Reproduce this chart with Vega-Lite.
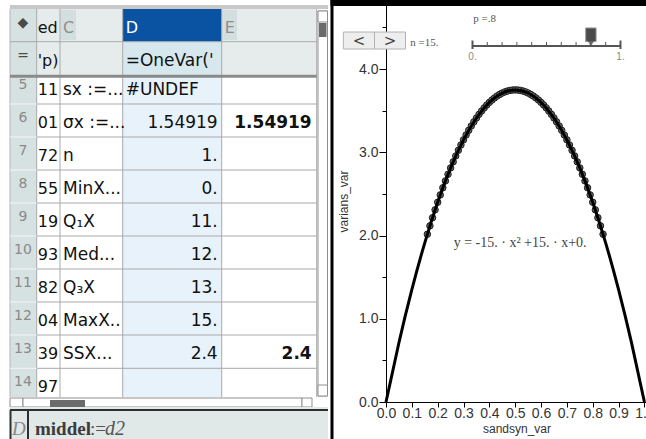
{
"$schema":"https://vega.github.io/schema/vega-lite/v6.json",
"padding":0,
"background":"#ffffff",
"spacing":0,
"config":{"view":{"stroke":null},"font":"Liberation Sans","axis":{"labelFont":"Liberation Sans","titleFont":"Liberation Sans","labelColor":"#333333","titleColor":"#333333","domainColor":"#000000","tickColor":"#000000","labelFontSize":13,"titleFontSize":12,"titleFontWeight":"normal","grid":false}},
"datasets":{
"cols":[{"c":"N","x0":1.0,"x1":3.67,"xc":2.3},{"c":"B","x0":3.67,"x1":6.0,"xc":4.8},{"c":"C","x0":6.0,"x1":12.27,"xc":9.1},{"c":"D","x0":12.27,"x1":22.17,"xc":17.2},{"c":"E","x0":22.17,"x1":31.67,"xc":26.9}],
"rows":[{"r":0,"top":0,"bot":0.991},{"r":1,"top":0.991,"bot":2.0},{"r":2,"top":2.0,"bot":2.879},{"r":3,"top":2.879,"bot":3.879},{"r":4,"top":3.879,"bot":4.879},{"r":5,"top":4.879,"bot":5.879},{"r":6,"top":5.879,"bot":6.879},{"r":7,"top":6.879,"bot":7.879},{"r":8,"top":7.879,"bot":8.879},{"r":9,"top":8.879,"bot":9.879},{"r":10,"top":9.879,"bot":10.888},{"r":11,"top":10.888,"bot":11.888}],
"cells":[
{"r":0,"c":"N","t":"◆"},{"r":1,"c":"N","t":"="},{"r":2,"c":"N","t":"5"},{"r":3,"c":"N","t":"6"},{"r":4,"c":"N","t":"7"},{"r":5,"c":"N","t":"8"},{"r":6,"c":"N","t":"9"},{"r":7,"c":"N","t":"10"},{"r":8,"c":"N","t":"11"},{"r":9,"c":"N","t":"12"},{"r":10,"c":"N","t":"13"},{"r":11,"c":"N","t":"14"},
{"r":0,"c":"B","t":"ed"},{"r":1,"c":"B","t":"'p)"},{"r":2,"c":"B","t":"11"},{"r":3,"c":"B","t":"01"},{"r":4,"c":"B","t":"72"},{"r":5,"c":"B","t":"55"},{"r":6,"c":"B","t":"19"},{"r":7,"c":"B","t":"93"},{"r":8,"c":"B","t":"82"},{"r":9,"c":"B","t":"04"},{"r":10,"c":"B","t":"39"},{"r":11,"c":"B","t":"97"},
{"r":0,"c":"C","t":"C"},{"r":2,"c":"C","t":"sx :=..."},{"r":3,"c":"C","t":"σx :=..."},{"r":4,"c":"C","t":"n"},{"r":5,"c":"C","t":"MinX..."},{"r":6,"c":"C","t":"Q₁X"},{"r":7,"c":"C","t":"Med..."},{"r":8,"c":"C","t":"Q₃X"},{"r":9,"c":"C","t":"MaxX.."},{"r":10,"c":"C","t":"SSX..."},
{"r":0,"c":"D","t":"D"},{"r":1,"c":"D","t":"=OneVar('"},{"r":2,"c":"D","t":"#UNDEF"},{"r":3,"c":"D","t":"1.54919"},{"r":4,"c":"D","t":"1."},{"r":5,"c":"D","t":"0."},{"r":6,"c":"D","t":"11."},{"r":7,"c":"D","t":"12."},{"r":8,"c":"D","t":"13."},{"r":9,"c":"D","t":"15."},{"r":10,"c":"D","t":"2.4"},
{"r":0,"c":"E","t":"E"},{"r":3,"c":"E","t":"1.54919"},{"r":10,"c":"E","t":"2.4"}],
"fills":[
{"k":"topbar","x0":1.0,"x1":32.8,"y0":-0.121,"y1":0},
{"k":"rownum","x0":1.0,"x1":3.67,"y0":0,"y1":11.758},
{"k":"head","x0":3.67,"x1":31.67,"y0":0,"y1":2.0},
{"k":"sel","x0":12.27,"x1":22.17,"y0":0,"y1":0.991},
{"k":"selhead","x0":12.27,"x1":22.17,"y0":0.991,"y1":2.0},
{"k":"selbody","x0":12.27,"x1":22.17,"y0":2.0,"y1":11.758},
{"k":"colbox","x0":6.05,"x1":7.6,"y0":0.03,"y1":0.94},
{"k":"colbox","x0":22.22,"x1":23.7,"y0":0.03,"y1":0.94},
{"k":"fbar","x0":1.0,"x1":32.8,"y0":12.061,"y1":13.03},
{"k":"thumb","x0":31.9,"x1":32.65,"y0":0.424,"y1":0.848},
{"k":"thumb","x0":5.0,"x1":8.5,"y0":11.848,"y1":12.061}],
"boxes":[
{"x0":31.8,"x1":32.75,"y0":0.061,"y1":11.727},
{"x0":31.8,"x1":32.75,"y0":0.061,"y1":0.394},
{"x0":31.8,"x1":32.75,"y0":11.394,"y1":11.727},
{"x0":1.0,"x1":2.3,"y0":11.788,"y1":12.061},
{"x0":2.3,"x1":30.2,"y0":11.788,"y1":12.061},
{"x0":30.2,"x1":31.2,"y0":11.788,"y1":12.061}],
"lines":[
{"k":"edge","x0":1.0,"x1":1.0,"y0":0,"y1":11.758},
{"k":"grid","x0":3.67,"x1":3.67,"y0":0,"y1":11.758},
{"k":"grid","x0":6.0,"x1":6.0,"y0":0,"y1":11.758},
{"k":"grid","x0":12.27,"x1":12.27,"y0":0,"y1":11.758},
{"k":"grid","x0":22.17,"x1":22.17,"y0":0,"y1":11.758},
{"k":"grid","x0":31.67,"x1":31.67,"y0":0,"y1":11.758},
{"k":"grid","x0":1.0,"x1":31.67,"y0":0.991,"y1":0.991},
{"k":"grid","x0":3.67,"x1":31.67,"y0":2.879,"y1":2.879},
{"k":"grid","x0":3.67,"x1":31.67,"y0":3.879,"y1":3.879},
{"k":"grid","x0":3.67,"x1":31.67,"y0":4.879,"y1":4.879},
{"k":"grid","x0":3.67,"x1":31.67,"y0":5.879,"y1":5.879},
{"k":"grid","x0":3.67,"x1":31.67,"y0":6.879,"y1":6.879},
{"k":"grid","x0":3.67,"x1":31.67,"y0":7.879,"y1":7.879},
{"k":"grid","x0":3.67,"x1":31.67,"y0":8.879,"y1":8.879},
{"k":"grid","x0":3.67,"x1":31.67,"y0":9.879,"y1":9.879},
{"k":"grid","x0":3.67,"x1":31.67,"y0":10.888,"y1":10.888},
{"k":"nline","x0":1.0,"x1":3.67,"y0":2.879,"y1":2.879},
{"k":"nline","x0":1.0,"x1":3.67,"y0":3.879,"y1":3.879},
{"k":"nline","x0":1.0,"x1":3.67,"y0":4.879,"y1":4.879},
{"k":"nline","x0":1.0,"x1":3.67,"y0":5.879,"y1":5.879},
{"k":"nline","x0":1.0,"x1":3.67,"y0":6.879,"y1":6.879},
{"k":"nline","x0":1.0,"x1":3.67,"y0":7.879,"y1":7.879},
{"k":"nline","x0":1.0,"x1":3.67,"y0":8.879,"y1":8.879},
{"k":"nline","x0":1.0,"x1":3.67,"y0":9.879,"y1":9.879},
{"k":"nline","x0":1.0,"x1":3.67,"y0":10.888,"y1":10.888},
{"k":"sep","x0":1.0,"x1":31.67,"y0":2.04,"y1":2.04},
{"k":"dark","x0":1.0,"x1":32.8,"y0":12.152,"y1":12.152},
{"k":"dark","x0":1.05,"x1":1.05,"y0":12.152,"y1":13.03},
{"k":"dark","x0":2.8,"x1":2.8,"y0":12.152,"y1":13.03}],
"slider":[{"p":0,"at":0.3347},{"p":0.1,"at":0.392},{"p":0.2,"at":0.4492},{"p":0.3,"at":0.5065},{"p":0.4,"at":0.5638},{"p":0.5,"at":0.6211},{"p":0.6,"at":0.6783},{"p":0.7,"at":0.7356},{"p":0.8,"at":0.7929},{"p":0.9,"at":0.8501},{"p":1,"at":0.9074}],
"curve":[{"sandsyn_var":0,"varians_var":0},{"sandsyn_var":0.05,"varians_var":0.7125},{"sandsyn_var":0.1,"varians_var":1.35},{"sandsyn_var":0.15,"varians_var":1.9125},{"sandsyn_var":0.2,"varians_var":2.4},{"sandsyn_var":0.25,"varians_var":2.8125},{"sandsyn_var":0.3,"varians_var":3.15},{"sandsyn_var":0.35,"varians_var":3.4125},{"sandsyn_var":0.4,"varians_var":3.6},{"sandsyn_var":0.45,"varians_var":3.7125},{"sandsyn_var":0.5,"varians_var":3.75},{"sandsyn_var":0.55,"varians_var":3.7125},{"sandsyn_var":0.6,"varians_var":3.6},{"sandsyn_var":0.65,"varians_var":3.4125},{"sandsyn_var":0.7,"varians_var":3.15},{"sandsyn_var":0.75,"varians_var":2.8125},{"sandsyn_var":0.8,"varians_var":2.4},{"sandsyn_var":0.85,"varians_var":1.9125},{"sandsyn_var":0.9,"varians_var":1.35},{"sandsyn_var":0.95,"varians_var":0.7125},{"sandsyn_var":1,"varians_var":0}],
"pts":[{"sandsyn_var":0.16,"varians_var":2.016},{"sandsyn_var":0.17,"varians_var":2.1165},{"sandsyn_var":0.18,"varians_var":2.214},{"sandsyn_var":0.19,"varians_var":2.3085},{"sandsyn_var":0.2,"varians_var":2.4},{"sandsyn_var":0.21,"varians_var":2.4885},{"sandsyn_var":0.22,"varians_var":2.574},{"sandsyn_var":0.23,"varians_var":2.6565},{"sandsyn_var":0.24,"varians_var":2.736},{"sandsyn_var":0.25,"varians_var":2.8125},{"sandsyn_var":0.26,"varians_var":2.886},{"sandsyn_var":0.27,"varians_var":2.9565},{"sandsyn_var":0.28,"varians_var":3.024},{"sandsyn_var":0.29,"varians_var":3.0885},{"sandsyn_var":0.3,"varians_var":3.15},{"sandsyn_var":0.31,"varians_var":3.2085},{"sandsyn_var":0.32,"varians_var":3.264},{"sandsyn_var":0.33,"varians_var":3.3165},{"sandsyn_var":0.34,"varians_var":3.366},{"sandsyn_var":0.35,"varians_var":3.4125},{"sandsyn_var":0.36,"varians_var":3.456},{"sandsyn_var":0.37,"varians_var":3.4965},{"sandsyn_var":0.38,"varians_var":3.534},{"sandsyn_var":0.39,"varians_var":3.5685},{"sandsyn_var":0.4,"varians_var":3.6},{"sandsyn_var":0.41,"varians_var":3.6285},{"sandsyn_var":0.42,"varians_var":3.654},{"sandsyn_var":0.43,"varians_var":3.6765},{"sandsyn_var":0.44,"varians_var":3.696},{"sandsyn_var":0.45,"varians_var":3.7125},{"sandsyn_var":0.46,"varians_var":3.726},{"sandsyn_var":0.47,"varians_var":3.7365},{"sandsyn_var":0.48,"varians_var":3.744},{"sandsyn_var":0.49,"varians_var":3.7485},{"sandsyn_var":0.5,"varians_var":3.75},{"sandsyn_var":0.51,"varians_var":3.7485},{"sandsyn_var":0.52,"varians_var":3.744},{"sandsyn_var":0.53,"varians_var":3.7365},{"sandsyn_var":0.54,"varians_var":3.726},{"sandsyn_var":0.55,"varians_var":3.7125},{"sandsyn_var":0.56,"varians_var":3.696},{"sandsyn_var":0.57,"varians_var":3.6765},{"sandsyn_var":0.58,"varians_var":3.654},{"sandsyn_var":0.59,"varians_var":3.6285},{"sandsyn_var":0.6,"varians_var":3.6},{"sandsyn_var":0.61,"varians_var":3.5685},{"sandsyn_var":0.62,"varians_var":3.534},{"sandsyn_var":0.63,"varians_var":3.4965},{"sandsyn_var":0.64,"varians_var":3.456},{"sandsyn_var":0.65,"varians_var":3.4125},{"sandsyn_var":0.66,"varians_var":3.366},{"sandsyn_var":0.67,"varians_var":3.3165},{"sandsyn_var":0.68,"varians_var":3.264},{"sandsyn_var":0.69,"varians_var":3.2085},{"sandsyn_var":0.7,"varians_var":3.15},{"sandsyn_var":0.71,"varians_var":3.0885},{"sandsyn_var":0.72,"varians_var":3.024},{"sandsyn_var":0.73,"varians_var":2.9565},{"sandsyn_var":0.74,"varians_var":2.886},{"sandsyn_var":0.75,"varians_var":2.8125},{"sandsyn_var":0.76,"varians_var":2.736},{"sandsyn_var":0.77,"varians_var":2.6565},{"sandsyn_var":0.78,"varians_var":2.574},{"sandsyn_var":0.79,"varians_var":2.4885},{"sandsyn_var":0.8,"varians_var":2.4},{"sandsyn_var":0.81,"varians_var":2.3085},{"sandsyn_var":0.82,"varians_var":2.214},{"sandsyn_var":0.83,"varians_var":2.1165},{"sandsyn_var":0.84,"varians_var":2.016}]
},
"hconcat":[
{
"width":330,"height":439,
"layer":[
{"data":{"name":"boxes"},"mark":{"type":"rect","fill":"#ffffff","stroke":"#8f8f8f","strokeWidth":1},
 "encoding":{"x":{"field":"x0","type":"quantitative","scale":{"domain":[0,33],"nice":false,"zero":false},"axis":null},"x2":{"field":"x1"},
 "y":{"field":"y0","type":"quantitative","scale":{"domain":[-0.2727,13.03],"nice":false,"zero":false,"reverse":true},"axis":null},"y2":{"field":"y1"}}},
{"data":{"name":"fills"},"mark":{"type":"rect"},
 "encoding":{"x":{"field":"x0","type":"quantitative","axis":null},"x2":{"field":"x1"},"y":{"field":"y0","type":"quantitative","axis":null},"y2":{"field":"y1"},
 "color":{"field":"k","type":"nominal","legend":null,"scale":{"domain":["topbar","rownum","head","sel","selhead","selbody","colbox","fbar","thumb","grid","nline","edge","sep","dark"],"range":["#c8c8c8","#d6e1e1","#e6ecec","#0a53a2","#d6e7ee","#e7f2fa","#d3dede","#e1e8e8","#6b6b6b","#a9a9a9","#f3f6f6","#b5b5b5","#8a8a8a","#2e2e2e"]}}}},
{"data":{"name":"lines"},"transform":[{"filter":"datum.k==='grid'||datum.k==='nline'||datum.k==='edge'"}],"mark":{"type":"rule","strokeWidth":1},
 "encoding":{"x":{"field":"x0","type":"quantitative","axis":null},"x2":{"field":"x1"},"y":{"field":"y0","type":"quantitative","axis":null},"y2":{"field":"y1"},
 "color":{"field":"k","type":"nominal","legend":null,"scale":{"domain":["topbar","rownum","head","sel","selhead","selbody","colbox","fbar","thumb","grid","nline","edge","sep","dark"],"range":["#c8c8c8","#d6e1e1","#e6ecec","#0a53a2","#d6e7ee","#e7f2fa","#d3dede","#e1e8e8","#6b6b6b","#a9a9a9","#f3f6f6","#b5b5b5","#8a8a8a","#2e2e2e"]}}}},
{"data":{"name":"lines"},"transform":[{"filter":"datum.k==='dark'"}],"mark":{"type":"rule","strokeWidth":2,"color":"#2e2e2e"},
 "encoding":{"x":{"field":"x0","type":"quantitative","axis":null},"x2":{"field":"x1"},"y":{"field":"y0","type":"quantitative","axis":null},"y2":{"field":"y1"}}},
{"data":{"name":"lines"},"transform":[{"filter":"datum.k==='sep'"}],"mark":{"type":"rule","strokeWidth":3,"color":"#8a8a8a"},
 "encoding":{"x":{"field":"x0","type":"quantitative","axis":null},"x2":{"field":"x1"},"y":{"field":"y0","type":"quantitative","axis":null},"y2":{"field":"y1"}}},
{"data":{"name":"cells"},"transform":[{"lookup":"c","from":{"data":{"name":"cols"},"key":"c","fields":["x0","x1","xc"]}},{"lookup":"r","from":{"data":{"name":"rows"},"key":"r","fields":["bot"]}},{"filter":"datum.c==='N'"}],
 "mark":{"type":"text","align":"center","baseline":"alphabetic","dy":-15,"font":"DejaVu Sans","fontSize":14},
 "encoding":{"x":{"field":"xc","type":"quantitative","axis":null},"y":{"field":"bot","type":"quantitative","axis":null},"text":{"field":"t"},"color":{"condition":{"test":"datum.r<2","value":"#4a4a4a"},"value":"#8a8a8a"}}},
{"data":{"name":"cells"},"transform":[{"lookup":"c","from":{"data":{"name":"cols"},"key":"c","fields":["x0","x1","xc"]}},{"lookup":"r","from":{"data":{"name":"rows"},"key":"r","fields":["bot"]}},{"filter":"datum.r===0 && (datum.c==='C'||datum.c==='D'||datum.c==='E')"}],
 "mark":{"type":"text","align":"left","baseline":"alphabetic","dx":3,"dy":-9,"font":"DejaVu Sans","fontSize":16},
 "encoding":{"x":{"field":"x0","type":"quantitative","axis":null},"y":{"field":"bot","type":"quantitative","axis":null},"text":{"field":"t"},"color":{"condition":{"test":"datum.c==='D'","value":"#ffffff"},"value":"#8e8e8e"}}},
{"data":{"name":"cells"},"transform":[{"lookup":"c","from":{"data":{"name":"cols"},"key":"c","fields":["x0","x1","xc"]}},{"lookup":"r","from":{"data":{"name":"rows"},"key":"r","fields":["bot"]}},{"filter":"datum.c==='B'"}],
 "mark":{"type":"text","align":"left","baseline":"alphabetic","dx":1,"dy":-9,"font":"DejaVu Sans","fontSize":16,"color":"#111111"},
 "encoding":{"x":{"field":"x0","type":"quantitative","axis":null},"y":{"field":"bot","type":"quantitative","axis":null},"text":{"field":"t"}}},
{"data":{"name":"cells"},"transform":[{"lookup":"c","from":{"data":{"name":"cols"},"key":"c","fields":["x0","x1","xc"]}},{"lookup":"r","from":{"data":{"name":"rows"},"key":"r","fields":["bot"]}},{"filter":"datum.r>=1 && (datum.c==='C' || (datum.c==='D' && isNaN(toNumber(datum.t))))"}],
 "mark":{"type":"text","align":"left","baseline":"alphabetic","dx":3,"dy":-9,"font":"DejaVu Sans","fontSize":17,"color":"#111111"},
 "encoding":{"x":{"field":"x0","type":"quantitative","axis":null},"y":{"field":"bot","type":"quantitative","axis":null},"text":{"field":"t"}}},
{"data":{"name":"cells"},"transform":[{"lookup":"c","from":{"data":{"name":"cols"},"key":"c","fields":["x0","x1","xc"]}},{"lookup":"r","from":{"data":{"name":"rows"},"key":"r","fields":["bot"]}},{"filter":"datum.c==='D' && datum.r>=2 && !isNaN(toNumber(datum.t))"}],
 "mark":{"type":"text","align":"right","baseline":"alphabetic","dx":-4,"dy":-9,"font":"DejaVu Sans","fontSize":17,"color":"#111111"},
 "encoding":{"x":{"field":"x1","type":"quantitative","axis":null},"y":{"field":"bot","type":"quantitative","axis":null},"text":{"field":"t"}}},
{"data":{"name":"cells"},"transform":[{"lookup":"c","from":{"data":{"name":"cols"},"key":"c","fields":["x0","x1","xc"]}},{"lookup":"r","from":{"data":{"name":"rows"},"key":"r","fields":["bot"]}},{"filter":"datum.c==='E' && datum.r>=1"}],
 "mark":{"type":"text","align":"right","baseline":"alphabetic","dx":-5,"dy":-9,"font":"DejaVu Sans","fontSize":17,"fontWeight":"bold","color":"#111111"},
 "encoding":{"x":{"field":"x1","type":"quantitative","axis":null},"y":{"field":"bot","type":"quantitative","axis":null},"text":{"field":"t"}}},
{"data":{"values":[{}]},"mark":{"type":"text","text":"D","align":"left","baseline":"alphabetic","font":"Liberation Serif","fontSize":19,"fontStyle":"italic","color":"#888888"},
 "encoding":{"x":{"datum":1.2,"type":"quantitative"},"y":{"datum":12.91,"type":"quantitative"}}},
{"data":{"values":[{}]},"mark":{"type":"text","text":"middel","align":"left","baseline":"alphabetic","font":"Liberation Serif","fontSize":19,"fontWeight":"bold","color":"#3c3c3c"},
 "encoding":{"x":{"datum":3.5,"type":"quantitative"},"y":{"datum":12.91,"type":"quantitative"}}},
{"data":{"values":[{}]},"mark":{"type":"text","text":":=","align":"left","baseline":"alphabetic","dx":55,"font":"Liberation Serif","fontSize":19,"color":"#555555"},
 "encoding":{"x":{"datum":3.5,"type":"quantitative"},"y":{"datum":12.91,"type":"quantitative"}}},
{"data":{"values":[{}]},"mark":{"type":"text","text":"d2","align":"left","baseline":"alphabetic","dx":70,"font":"Liberation Serif","fontSize":20,"fontStyle":"italic","color":"#555555"},
 "encoding":{"x":{"datum":3.5,"type":"quantitative"},"y":{"datum":12.91,"type":"quantitative"}}}
]
},
{
"width":261,"height":402,
"layer":[
{"data":{"name":"pts"},"mark":{"type":"circle","size":42,"fill":"#666666","stroke":"#1e1e1e","strokeWidth":1,"opacity":1},
 "encoding":{
 "x":{"field":"sandsyn_var","type":"quantitative","scale":{"domain":[0,1.01],"nice":false,"zero":false},"axis":{"title":"sandsyn_var","values":[0,0.1,0.2,0.3,0.4,0.5,0.6,0.7,0.8,0.9,1],"tickCount":11,"labelExpr":"format(datum.value, '.1f')","labelFlush":false,"labelOverlap":false,"labelBound":false,"tickSize":5,"labelPadding":-1,"labelFontSize":14,"titlePadding":3}},
 "y":{"field":"varians_var","type":"quantitative","scale":{"domain":[0,4.83],"nice":false,"zero":false},"axis":{"title":"varians_var","values":[0,0.5,1,1.5,2,2.5,3,3.5,4,4.5],"tickCount":10,"labelExpr":"datum.value % 1 === 0 ? format(datum.value, '.1f') : ''","tickSize":{"condition":{"test":"datum.value % 1 === 0","value":7},"value":4},"labelOverlap":false,"labelPadding":1,"labelFontSize":14,"minExtent":28,"maxExtent":28,"titlePadding":8}}}},
{"data":{"name":"curve"},"mark":{"type":"line","color":"#000000","strokeWidth":3,"interpolate":"natural"},
 "encoding":{"x":{"field":"sandsyn_var","type":"quantitative"},"y":{"field":"varians_var","type":"quantitative"}}},
{"data":{"values":[{}]},"mark":{"type":"text","text":"y = -15. · x² +15. · x+0.","font":"Liberation Serif","fontSize":14,"color":"#444444","align":"center","baseline":"middle"},
 "encoding":{"x":{"datum":0.519,"type":"quantitative"},"y":{"datum":1.91,"type":"quantitative"}}},
{"data":{"values":[{}]},"mark":{"type":"rect","color":"#000000"},
 "encoding":{"x":{"datum":-0.2148,"type":"quantitative"},"x2":{"datum":-0.2032},"y":{"datum":-0.445,"type":"quantitative"},"y2":{"datum":4.83}}},
{"data":{"values":[{}]},"mark":{"type":"rect","color":"#000000"},
 "encoding":{"x":{"datum":-0.2148,"type":"quantitative"},"x2":{"datum":1.01},"y":{"datum":4.758,"type":"quantitative"},"y2":{"datum":4.83}}},
{"data":{"name":"slider"},"transform":[{"filter":"datum.p>0 && datum.p<1"}],"mark":{"type":"rule","color":"#555555","strokeWidth":1},
 "encoding":{"x":{"field":"at","type":"quantitative"},"y":{"datum":4.277,"type":"quantitative"},"y2":{"datum":4.325}}},
{"data":{"name":"slider"},"transform":[{"filter":"datum.p===0 || datum.p===1"}],"mark":{"type":"rule","color":"#555555","strokeWidth":2},
 "encoding":{"x":{"field":"at","type":"quantitative"},"y":{"datum":4.241,"type":"quantitative"},"y2":{"datum":4.343}}},
{"data":{"values":[{}]},"mark":{"type":"rule","color":"#555555","strokeWidth":2},
 "encoding":{"x":{"datum":0.3347,"type":"quantitative"},"x2":{"datum":0.9074},"y":{"datum":4.277,"type":"quantitative"}}},
{"data":{"values":[{}]},"mark":{"type":"rect","fill":"#eeeeee","stroke":"#b3b3b3","strokeWidth":1},
 "encoding":{"x":{"datum":-0.1649,"type":"quantitative"},"x2":{"datum":-0.0445},"y":{"datum":4.241,"type":"quantitative"},"y2":{"datum":4.445}}},
{"data":{"values":[{}]},"mark":{"type":"rect","fill":"#eeeeee","stroke":"#b3b3b3","strokeWidth":1},
 "encoding":{"x":{"datum":-0.0445,"type":"quantitative"},"x2":{"datum":0.0755},"y":{"datum":4.241,"type":"quantitative"},"y2":{"datum":4.445}}},
{"data":{"values":[{}]},"mark":{"type":"text","text":"<","font":"DejaVu Sans","fontSize":15,"color":"#444444","align":"center","baseline":"middle"},
 "encoding":{"x":{"datum":-0.1045,"type":"quantitative"},"y":{"datum":4.343,"type":"quantitative"}}},
{"data":{"values":[{}]},"mark":{"type":"text","text":">","font":"DejaVu Sans","fontSize":15,"color":"#444444","align":"center","baseline":"middle"},
 "encoding":{"x":{"datum":0.0159,"type":"quantitative"},"y":{"datum":4.343,"type":"quantitative"}}},
{"data":{"values":[{}]},"mark":{"type":"text","text":"n  =15.","font":"Liberation Serif","fontSize":11,"color":"#555555","align":"left","baseline":"middle"},
 "encoding":{"x":{"datum":0.0941,"type":"quantitative"},"y":{"datum":4.315,"type":"quantitative"}}},
{"data":{"values":[{}]},"mark":{"type":"text","text":"p  =.8","font":"Liberation Serif","fontSize":11,"color":"#555555","align":"left","baseline":"middle"},
 "encoding":{"x":{"datum":0.3375,"type":"quantitative"},"y":{"datum":4.6,"type":"quantitative"}}},
{"data":{"values":[{}]},"mark":{"type":"text","text":"0.","font":"Liberation Sans","fontSize":10,"color":"#888888","align":"center","baseline":"middle"},
 "encoding":{"x":{"datum":0.3347,"type":"quantitative"},"y":{"datum":4.145,"type":"quantitative"}}},
{"data":{"values":[{}]},"mark":{"type":"text","text":"1.","font":"Liberation Sans","fontSize":10,"color":"#888888","align":"center","baseline":"middle"},
 "encoding":{"x":{"datum":0.9074,"type":"quantitative"},"y":{"datum":4.145,"type":"quantitative"}}},
{"data":{"values":[{}]},"mark":{"type":"rect","fill":"#4b4b4b","stroke":"#999999","strokeWidth":1},
 "encoding":{"x":{"datum":0.7728,"type":"quantitative"},"x2":{"datum":0.813},"y":{"datum":4.33,"type":"quantitative"},"y2":{"datum":4.494}}},
{"data":{"values":[{}]},"mark":{"type":"point","shape":"triangle-down","filled":true,"size":45,"color":"#4b4b4b"},
 "encoding":{"x":{"datum":0.7929,"type":"quantitative"},"y":{"datum":4.305,"type":"quantitative"}}}
]
}
]
}
